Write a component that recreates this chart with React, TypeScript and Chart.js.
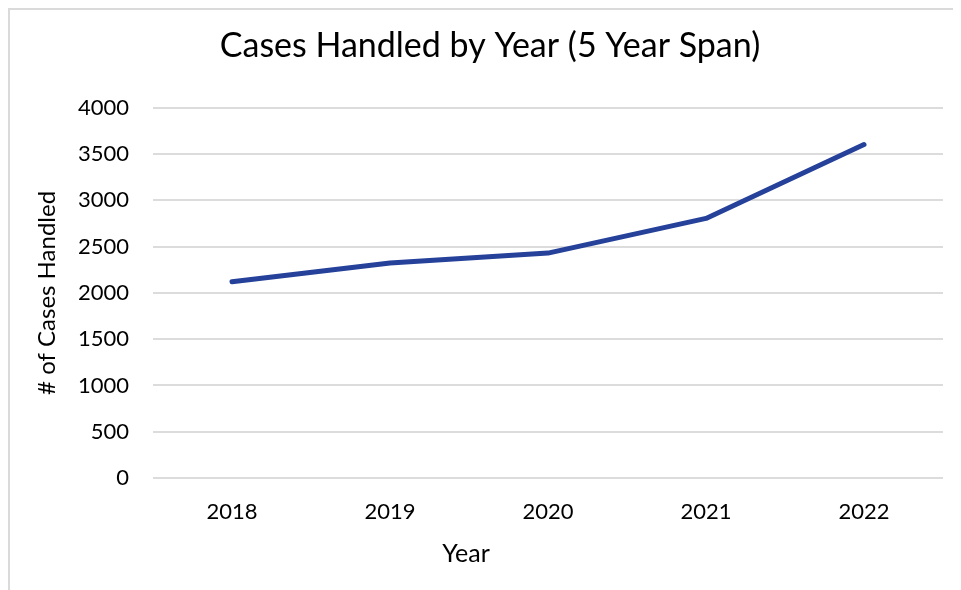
import React, { useEffect, useRef } from "react";
import { Chart, registerables } from "chart.js";

Chart.register(...registerables);

const years = ["2018", "2019", "2020", "2021", "2022"];
const casesHandled = [2120, 2322, 2430, 2805, 3603];
const yMin = 0;
const yMax = 4000;
const yStep = 500;
const titleText = "Cases Handled by Year (5 Year Span)";
const xTitleText = "Year";
const yTitleText = "# of Cases Handled";

const FONT = "Lato, 'Open Sans', sans-serif";

const xTitlePlugin = {
  id: "xTitlePlugin",
  afterDraw(chart: any) {
    const xs = chart.scales.x;
    const ctx = chart.ctx;
    ctx.save();
    ctx.font = `25px ${FONT}`;
    ctx.fillStyle = "#000000";
    ctx.textAlign = "center";
    ctx.textBaseline = "middle";
    const cx = (xs.left + xs.right) / 2 - 82;
    ctx.fillText(xTitleText, cx, xs.top + 76);
    ctx.restore();
  },
};

export default function App() {
  const ref = useRef<HTMLCanvasElement | null>(null);
  useEffect(() => {
    if (!ref.current) return;
    const chart = new Chart(ref.current, {
      type: "line",
      data: {
        labels: years,
        datasets: [
          {
            data: casesHandled,
            borderColor: "#25419a",
            borderWidth: 5,
            borderCapStyle: "round",
            borderJoinStyle: "round",
            pointRadius: 0,
            tension: 0,
            fill: false,
          },
        ],
      },
      options: {
        animation: false,
        responsive: false,
        maintainAspectRatio: false,
        layout: { padding: { left: 27, right: 27, top: 0, bottom: 0 } },
        plugins: {
          legend: { display: false },
          tooltip: { enabled: false },
          title: {
            display: true,
            text: titleText,
            color: "#000000",
            font: { family: FONT, size: 34, weight: "normal" },
            padding: { top: 16, bottom: 41 },
          },
        },
        scales: {
          x: {
            offset: true,
            grid: { display: false, drawTicks: false },
            border: { display: false },
            ticks: {
              color: "#000000",
              font: { family: FONT, size: 22 },
              padding: 21,
              maxRotation: 0,
            },
            afterFit(scale: any) {
              scale.height = 122;
            },
          },
          y: {
            min: yMin,
            max: yMax,
            grid: { color: "#dcdcdc", lineWidth: 2, drawTicks: false },
            border: { display: false },
            ticks: {
              stepSize: yStep,
              color: "#000000",
              font: { family: FONT, size: 22 },
              padding: 24,
              callback: (v: any) => String(v),
            },
            title: {
              display: true,
              text: yTitleText,
              color: "#000000",
              font: { family: FONT, size: 24 },
              padding: { top: -4, bottom: 0 },
            },
            afterFit(scale: any) {
              scale.width = 116;
            },
          },
        },
      },
      plugins: [xTitlePlugin],
    });
    return () => chart.destroy();
  }, []);

  return (
    <div
      style={{
        width: 953,
        height: 582,
        overflow: "hidden",
        borderTop: "2px solid #dadada",
        borderLeft: "2px solid #dadada",
        boxSizing: "border-box",
        background: "#ffffff",
      }}
    >
      <canvas ref={ref} width={960} height={590} style={{ display: "block" }} />
    </div>
  );
}
